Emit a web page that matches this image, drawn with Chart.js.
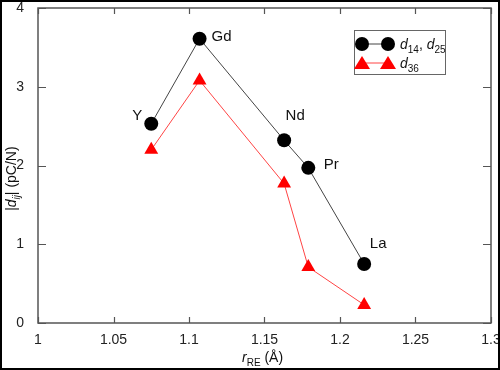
<!DOCTYPE html>
<html>
<head>
<meta charset="utf-8">
<script src="https://cdn.jsdelivr.net/npm/chart.js@4.4.0/dist/chart.umd.min.js"></script>
<style>
  html, body { margin: 0; padding: 0; background: #fff; }
  #wrap { width: 500px; height: 370px; position: relative; }
</style>
</head>
<body>
<div id="wrap"><canvas id="chart" width="500" height="370"></canvas></div>
<script>
// ─── Data ────────────────────────────────────────────────────────────────────
const ionicRadius = [1.075, 1.107, 1.163, 1.179, 1.216];
const elements    = ['Y', 'Gd', 'Nd', 'Pr', 'La'];
const d14d25      = [2.53, 3.61, 2.32, 1.97, 0.75];
const d36         = [2.20, 3.08, 1.77, 0.71, 0.23];
const xTicks      = [1, 1.05, 1.1, 1.15, 1.2, 1.25, 1.3];
const yTicks      = [0, 1, 2, 3, 4];

const FONT = 'Liberation Sans, Arial, sans-serif';
const toPoints = (vals) => ionicRadius.map((x, i) => ({ x, y: vals[i] }));

// label offsets relative to the marker (px)
const labelOffset = [[-14, -8], [22, -2], [11, -24], [23, -3], [14, -20]];

// ─── Drawing helpers ─────────────────────────────────────────────────────────
const drawSub = (ctx, x, y, parts) => {
    // parts: [text, italic, sub]
    let cx = x;
    parts.forEach(([t, it, sub]) => {
        const size = sub ? 10 : 14;
        ctx.font = `${it ? 'italic ' : ''}${size}px ${FONT}`;
        ctx.fillText(t, cx, y + (sub ? 4 : 0));
        cx += ctx.measureText(t).width;
    });
    return cx;
};

const decorPlugin = {
    id: 'decor',
    afterDraw(chart) {
        const { ctx, chartArea: a, scales } = chart;
        const xs = scales.x, ys = scales.y;
        ctx.save();

        // plot box
        ctx.strokeStyle = '#555';
        ctx.lineWidth = 1.5;
        ctx.strokeRect(a.left, a.top, a.right - a.left, a.bottom - a.top);

        // inward ticks on all four sides
        ctx.lineWidth = 1.2;
        ctx.beginPath();
        xTicks.forEach(v => {
            const px = Math.round(xs.getPixelForValue(v)) + 0.5;
            ctx.moveTo(px, a.bottom); ctx.lineTo(px, a.bottom - 6);
            ctx.moveTo(px, a.top);    ctx.lineTo(px, a.top + 6);
        });
        yTicks.forEach(v => {
            const py = Math.round(ys.getPixelForValue(v)) + 0.5;
            ctx.moveTo(a.left, py);  ctx.lineTo(a.left + 8, py);
            ctx.moveTo(a.right, py); ctx.lineTo(a.right - 8, py);
        });
        ctx.stroke();

        // point labels
        ctx.fillStyle = '#111';
        ctx.font = `15px ${FONT}`;
        ctx.textAlign = 'center';
        ctx.textBaseline = 'middle';
        const meta = chart.getDatasetMeta(0);
        meta.data.forEach((pt, i) => {
            const [dx, dy] = labelOffset[i];
            ctx.fillText(elements[i], pt.x + dx, pt.y + dy);
        });

        // x title
        ctx.textAlign = 'left';
        ctx.textBaseline = 'alphabetic';
        drawSub(ctx, 242, 362, [['r', true, false], ['RE', false, true], [' (\u00c5)', false, false]]);

        // y title (rotated)
        ctx.save();
        ctx.translate(16, 211);
        ctx.rotate(-Math.PI / 2);
        drawSub(ctx, 0, 0, [['|d', true, false], ['ij', true, true], ['| (pC/N)', false, false]]);
        ctx.restore();

        // legend box
        const lx = 354, ly = 30, lw = 91, lh = 44;
        ctx.strokeStyle = '#666';
        ctx.lineWidth = 1;
        ctx.strokeRect(lx + 0.5, ly + 0.5, lw, lh);

        const rows = [
            { y: ly + 14, color: '#000', line: '#444', style: 'circle',
              text: [['d', true, false], ['14', false, true], [', ', false, false], ['d', true, false], ['25', false, true]] },
            { y: ly + 33, color: '#ff0000', line: '#ff4444', style: 'triangle',
              text: [['d', true, false], ['36', false, true]] }
        ];
        rows.forEach(r => {
            ctx.strokeStyle = r.line;
            ctx.beginPath(); ctx.moveTo(362, r.y); ctx.lineTo(388, r.y); ctx.stroke();
            ctx.fillStyle = r.color;
            [362, 388].forEach(cx => {
                ctx.beginPath();
                if (r.style === 'circle') {
                    ctx.arc(cx, r.y, 7, 0, Math.PI * 2);
                } else {
                    ctx.moveTo(cx, r.y - 7); ctx.lineTo(cx + 8, r.y + 6); ctx.lineTo(cx - 8, r.y + 6);
                    ctx.closePath();
                }
                ctx.fill();
            });
            ctx.fillStyle = '#111';
            drawSub(ctx, 400, r.y + 5, r.text);
        });

        // outer frame
        ctx.strokeStyle = '#000';
        ctx.lineWidth = 2;
        ctx.strokeRect(1, 1, 498, 368);
        ctx.restore();
    }
};

// ─── Chart ───────────────────────────────────────────────────────────────────
new Chart(document.getElementById('chart'), {
    type: 'scatter',
    data: {
        datasets: [
            {
                data: toPoints(d14d25),
                showLine: true,
                borderColor: '#444',
                borderWidth: 1,
                backgroundColor: '#000',
                pointBackgroundColor: '#000',
                pointBorderWidth: 0,
                pointRadius: 7,
                pointStyle: 'circle'
            },
            {
                data: toPoints(d36),
                showLine: true,
                borderColor: '#ff4444',
                borderWidth: 1,
                backgroundColor: '#ff0000',
                pointBackgroundColor: '#ff0000',
                pointBorderWidth: 0,
                pointRadius: 8,
                pointStyle: 'triangle'
            }
        ]
    },
    options: {
        responsive: false,
        animation: false,
        layout: { padding: { top: 8, right: 9, left: 0, bottom: 0 } },
        plugins: { legend: { display: false }, tooltip: { enabled: false } },
        scales: {
            x: {
                type: 'linear', min: 1, max: 1.3,
                afterFit: (s) => { s.height = 47; s.paddingRight = 0; s.paddingLeft = 0; },
                afterBuildTicks: (s) => { s.ticks = xTicks.map(v => ({ value: v })); },
                grid: { display: false },
                border: { display: false },
                ticks: {
                    color: '#222', padding: 1,
                    font: { family: FONT, size: 14 },
                    callback: (v) => String(v)
                }
            },
            y: {
                type: 'linear', min: 0, max: 4,
                afterFit: (s) => { s.width = 38; s.paddingTop = 0; s.paddingBottom = 0; },
                afterBuildTicks: (s) => { s.ticks = yTicks.map(v => ({ value: v })); },
                grid: { display: false },
                border: { display: false },
                ticks: {
                    color: '#222', padding: 6,
                    font: { family: FONT, size: 14 },
                    callback: (v) => String(v)
                }
            }
        }
    },
    plugins: [decorPlugin]
});
</script>
</body>
</html>
